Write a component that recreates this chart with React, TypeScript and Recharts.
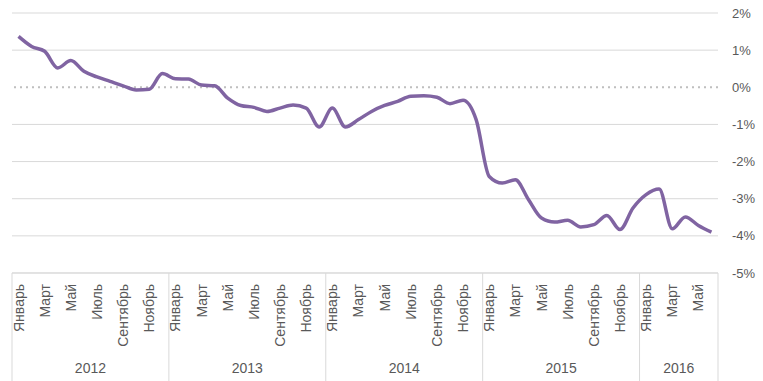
import React from "react";
import { CartesianGrid, Line, LineChart, ReferenceLine, XAxis, YAxis } from "recharts";

const MONTHS = [
  "Январь", "Февраль", "Март", "Апрель", "Май", "Июнь",
  "Июль", "Август", "Сентябрь", "Октябрь", "Ноябрь", "Декабрь",
];
const YEARS = [2012, 2013, 2014, 2015, 2016];
const MONTHS_IN_YEAR = [12, 12, 12, 12, 6];
const VALUES = [
  1.37, 1.1, 0.97, 0.52, 0.72, 0.43, 0.28, 0.16, 0.04, -0.07, -0.05, 0.37,
  0.23, 0.22, 0.06, 0.04, -0.29, -0.49, -0.54, -0.65, -0.56, -0.48, -0.56, -1.07,
  -0.56, -1.07, -0.87, -0.65, -0.49, -0.38, -0.24, -0.23, -0.27, -0.44, -0.35, -0.87,
  -2.4, -2.58, -2.49, -3.02, -3.52, -3.63, -3.58, -3.76, -3.7, -3.45, -3.83, -3.25,
  -2.89, -2.74, -3.81, -3.49, -3.72, -3.9,
];
const Y_TICKS = [-5, -4, -3, -2, -1, 0, 1, 2];

const W = 763;
const H = 381;
const MARGIN = { top: 13, right: 0, left: 12, bottom: 0 };
const Y_WIDTH = 45;
const TEXT = "#595959";
const GRID = "#d9d9d9";
const PURPLE = "#8064a2";
const FONT = "'Liberation Sans', Arial, sans-serif";

type Row = { key: string; month: string; year: number; mi: number; count: number; value: number };

const rows: Row[] = [];
YEARS.forEach((year, yi) => {
  for (let m = 0; m < MONTHS_IN_YEAR[yi]; m++) {
    rows.push({
      key: `${year}-${m + 1}`,
      month: MONTHS[m],
      year,
      mi: m,
      count: MONTHS_IN_YEAR[yi],
      value: VALUES[rows.length],
    });
  }
});

const BAND = (W - MARGIN.left - MARGIN.right - Y_WIDTH) / rows.length;
const byKey: Record<string, Row> = {};
rows.forEach((r) => (byKey[r.key] = r));

function CategoryTick(props: any) {
  const { x, y, payload } = props;
  const row = byKey[payload.value];
  if (!row) return null;
  const isLast = row === rows[rows.length - 1];
  return (
    <g>
      {row.mi % 2 === 0 && (
        <text
          x={x}
          y={y + 11}
          transform={`rotate(-90, ${x}, ${y + 11})`}
          textAnchor="end"
          dominantBaseline="central"
          fill={TEXT}
          fontSize={14}
          fontFamily={FONT}
        >
          {row.month}
        </text>
      )}
      {row.mi === Math.floor(row.count / 2) && (
        <text
          x={x - BAND / 2}
          y={y + 95}
          textAnchor="middle"
          dominantBaseline="central"
          fill={TEXT}
          fontSize={14}
          fontFamily={FONT}
        >
          {row.year}
        </text>
      )}
      {row.mi === 0 && <line x1={x - BAND / 2} x2={x - BAND / 2} y1={y} y2={y + 110} stroke={GRID} />}
      {isLast && <line x1={x + BAND / 2} x2={x + BAND / 2} y1={y} y2={y + 110} stroke={GRID} />}
    </g>
  );
}

export default function App() {
  return (
    <div style={{ position: "absolute", left: 0, top: 0, background: "#fff" }}>
      <LineChart width={W} height={H} data={rows} margin={MARGIN} style={{ fontFamily: FONT }}>
        <CartesianGrid vertical={false} stroke={GRID} horizontalValues={Y_TICKS.filter((t) => t !== 0)} />
        <XAxis
          dataKey="key"
          interval={0}
          height={H - 273}
          axisLine={{ stroke: GRID }}
          tickLine={false}
          tickSize={0}
          tickMargin={0}
          padding={{ left: BAND / 2, right: BAND / 2 }}
          tick={<CategoryTick />}
        />
        <YAxis
          orientation="right"
          width={Y_WIDTH}
          domain={[-5, 2]}
          ticks={Y_TICKS}
          tickFormatter={(v) => `${v}%`}
          axisLine={false}
          tickLine={false}
          tickSize={0}
          tickMargin={14}
          tick={{ fill: TEXT, fontSize: 13, textAnchor: "start" }}
        />
        <ReferenceLine y={0} stroke="#bfbfbf" strokeWidth={2} strokeDasharray="2 4" />
        <Line
          type="monotone"
          dataKey="value"
          stroke={PURPLE}
          strokeWidth={3.5}
          dot={false}
          isAnimationActive={false}
        />
      </LineChart>
    </div>
  );
}
